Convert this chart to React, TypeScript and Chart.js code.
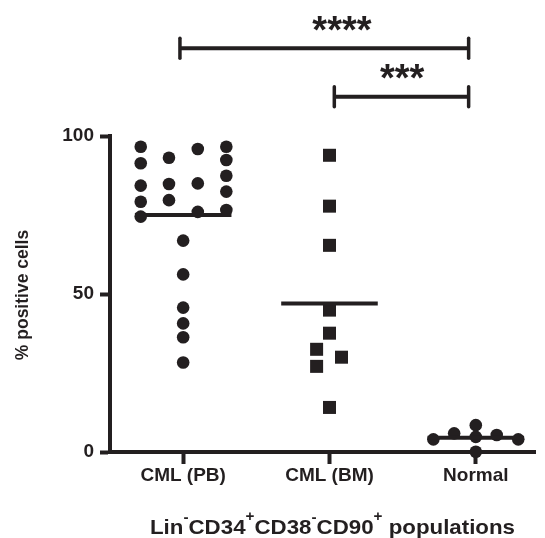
import React, { useEffect, useRef } from 'react';
import { Chart, registerables } from 'chart.js';

Chart.register(...registerables);

// ---- data ----
const categories = ['CML (PB)', 'CML (BM)', 'Normal'];
const yTickValues = [0, 50, 100];

const pbValues = [96.6, 91.4, 84.3, 79.2, 74.5, 93.1, 84.8, 79.7, 95.9, 85.0, 76.0, 96.6, 92.4, 87.4, 82.4, 76.6, 66.9, 56.2, 45.7, 40.7, 36.3, 28.3];
const pbJitter = [-0.29, -0.29, -0.29, -0.29, -0.29, -0.097, -0.097, -0.097, 0.1, 0.1, 0.1, 0.295, 0.295, 0.295, 0.295, 0.295, 0, 0, 0, 0, 0, 0];

const bmValues = [93.9, 77.8, 65.4, 44.9, 37.6, 32.5, 27.1, 30.0, 14.1];
const bmJitter = [0, 0, 0, 0, 0, -0.088, -0.088, 0.082, 0];

const normalValues = [4.0, 5.9, 8.5, 4.8, 0.1, 5.4, 4.0];
const normalJitter = [-0.29, -0.148, 0, 0, 0, 0.143, 0.29];

const medians = [75.0, 47.0, 4.5];
const medianHalfWidth = 0.33;

const bracketFrom = [-0.022, 1.033];
const bracketTo = [1.951, 1.951];
const bracketY = [127.75, 112.4];
const bracketLabels = ['****', '***'];
const bracketLabelX = [1.085, 1.497];

// ---- style ----
const ink = '#231f20';
const family = '"Liberation Sans", Arial, Helvetica, sans-serif';

const annotations = {
  id: 'annotations',
  afterDraw(chart: any) {
    const { ctx } = chart;
    const x = chart.scales.x;
    const y = chart.scales.y;
    ctx.save();
    ctx.strokeStyle = ink;
    ctx.fillStyle = ink;

    // significance brackets
    for (let i = 0; i < bracketFrom.length; i++) {
      const x1 = x.getPixelForValue(bracketFrom[i]);
      const x2 = x.getPixelForValue(bracketTo[i]);
      const yy = y.getPixelForValue(bracketY[i]);
      ctx.lineWidth = 4;
      ctx.lineCap = 'butt';
      ctx.beginPath();
      ctx.moveTo(x1, yy);
      ctx.lineTo(x2, yy);
      ctx.stroke();
      ctx.lineCap = 'round';
      ctx.lineWidth = 3.5;
      for (const xx of [x1, x2]) {
        ctx.beginPath();
        ctx.moveTo(xx, yy - 10);
        ctx.lineTo(xx, yy + 10);
        ctx.stroke();
      }
      ctx.font = `bold 38px ${family}`;
      ctx.textAlign = 'center';
      ctx.textBaseline = 'alphabetic';
      const m = ctx.measureText(bracketLabels[i]);
      const cy = yy - 25;
      const by = cy + (m.actualBoundingBoxAscent - m.actualBoundingBoxDescent) / 2;
      ctx.fillText(bracketLabels[i], x.getPixelForValue(bracketLabelX[i]), by);
    }

    // y title
    ctx.save();
    ctx.translate(23.3, 295);
    ctx.rotate(-Math.PI / 2);
    ctx.font = `bold 17.5px ${family}`;
    ctx.textAlign = 'center';
    ctx.textBaseline = 'alphabetic';
    const yt = '% positive cells';
    const ym = ctx.measureText(yt);
    ctx.fillText(yt, 0, (ym.actualBoundingBoxAscent - ym.actualBoundingBoxDescent) / 2);
    ctx.restore();

    // x title with superscripts
    const segs = [
      { t: 'Lin' }, { t: '-', sup: true }, { t: 'CD34' }, { t: '+', sup: true },
      { t: 'CD38' }, { t: '-', sup: true }, { t: 'CD90' }, { t: '+', sup: true }, { t: ' populations' },
    ];
    const mainFont = `bold 20.5px ${family}`;
    const supFont = `bold 14px ${family}`;
    let total = 0;
    const widths: number[] = [];
    for (const s of segs) {
      ctx.font = s.sup ? supFont : mainFont;
      const w = ctx.measureText(s.t).width;
      widths.push(w);
      total += w;
    }
    const targetW = 365;
    const sx = targetW / total;
    ctx.save();
    ctx.translate(150, 534);
    ctx.scale(sx, 1);
    let cx = 0;
    ctx.textAlign = 'left';
    ctx.textBaseline = 'alphabetic';
    segs.forEach((s, i) => {
      if (s.sup) {
        ctx.font = supFont;
        const m = ctx.measureText(s.t);
        const centerY = s.t === '+' ? -18 : -16;
        const by = centerY + (m.actualBoundingBoxAscent - m.actualBoundingBoxDescent) / 2;
        ctx.fillText(s.t, cx, by);
      } else {
        ctx.font = mainFont;
        ctx.fillText(s.t, cx, 0);
      }
      cx += widths[i];
    });
    ctx.restore();

    ctx.restore();
  },
};

export default function App() {
  const canvasRef = useRef<HTMLCanvasElement | null>(null);

  useEffect(() => {
    const canvas = canvasRef.current;
    if (!canvas) return;

    const pointSet = (values: number[], jitter: number[], idx: number, style: string, radius: number) => ({
      type: 'scatter' as const,
      data: values.map((v, i) => ({ x: idx + jitter[i], y: v })),
      pointStyle: style,
      pointRadius: radius,
      pointHoverRadius: radius,
      backgroundColor: ink,
      borderColor: ink,
      borderWidth: 0,
      clip: false as any,
      order: 2,
    });

    const medianSets = medians.map((m, i) => ({
      type: 'line' as const,
      data: [
        { x: i - medianHalfWidth, y: m },
        { x: i + medianHalfWidth, y: m },
      ],
      borderColor: ink,
      borderWidth: 4,
      pointRadius: 0,
      showLine: true,
      fill: false,
      clip: false as any,
      order: 1,
    }));

    const tickFont = { family, size: 19, weight: 'bold' as const };

    const chart = new Chart(canvas, {
      type: 'scatter',
      data: {
        datasets: [
          pointSet(pbValues, pbJitter, 0, 'circle', 6.3),
          pointSet(bmValues, bmJitter, 1, 'rect', 9.2),
          pointSet(normalValues, normalJitter, 2, 'circle', 6.3),
          ...medianSets,
        ] as any,
      },
      options: {
        responsive: false,
        animation: false,
        layout: { padding: { top: 136, right: 5, left: 0, bottom: 0 } },
        plugins: {
          legend: { display: false },
          tooltip: { enabled: false },
        },
        scales: {
          x: {
            type: 'linear',
            min: -0.5,
            max: 2.41,
            afterBuildTicks: (s: any) => {
              s.ticks = categories.map((_, i) => ({ value: i }));
            },
            afterFit: (s: any) => {
              s.height = 86;
            },
            ticks: {
              callback: (_v: any, i: number) => categories[i],
              color: ink,
              font: tickFont,
              padding: 0,
              autoSkip: false,
              maxRotation: 0,
            },
            grid: {
              drawOnChartArea: false,
              drawTicks: true,
              tickLength: 12,
              tickWidth: 4,
              tickColor: ink,
            },
            border: { display: true, width: 4, color: ink },
          },
          y: {
            type: 'linear',
            min: 0,
            max: 100,
            afterBuildTicks: (s: any) => {
              s.ticks = yTickValues.map((v) => ({ value: v }));
            },
            afterFit: (s: any) => {
              s.width = 110;
            },
            ticks: {
              color: ink,
              font: tickFont,
              padding: 6,
            },
            grid: {
              drawOnChartArea: false,
              drawTicks: true,
              tickLength: 10,
              tickWidth: 4,
              tickColor: ink,
            },
            border: { display: true, width: 4, color: ink },
          },
        },
      } as any,
      plugins: [annotations],
    });

    return () => chart.destroy();
  }, []);

  return (
    <canvas
      ref={canvasRef}
      width={545}
      height={538}
      style={{ position: 'absolute', left: 0, top: 0, width: 545, height: 538 }}
    />
  );
}
